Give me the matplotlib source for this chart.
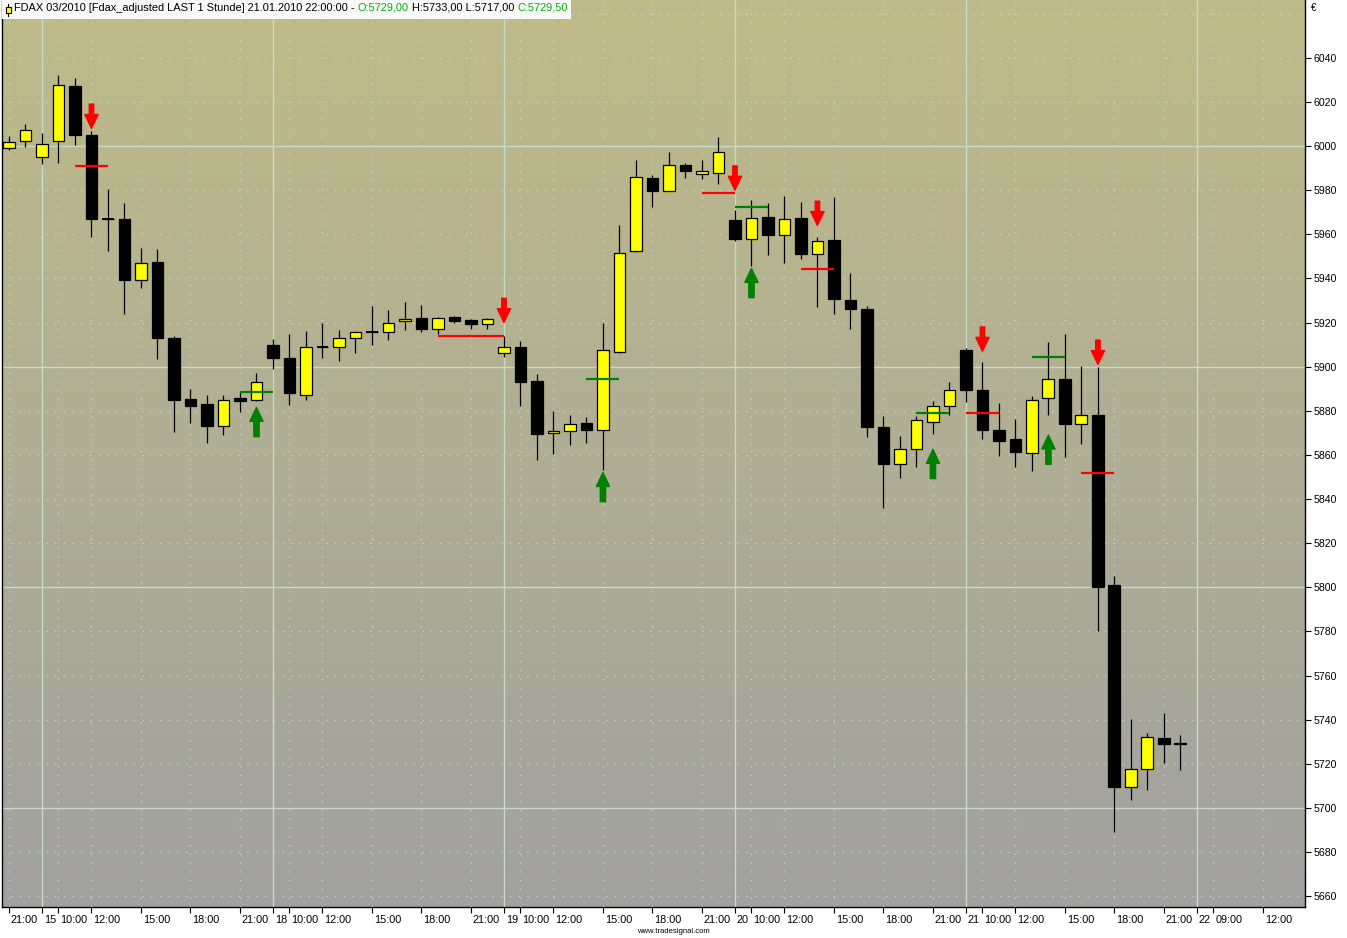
import numpy as np
import matplotlib.pyplot as plt
import matplotlib.transforms as mtransforms
from matplotlib.patches import Rectangle
from matplotlib.lines import Line2D
from matplotlib.text import Annotation

plt.rcParams['font.family'] = ['Liberation Sans', 'DejaVu Sans']

# FDAX 03/2010, hourly bars 14.01 21:00 ... 21.01 22:00
opens = [5999, 6002.5, 5995, 6002.5, 6027, 6005, 5967, 5967, 5939.5, 5947.5,
         5913, 5885.5, 5883, 5873, 5886, 5885, 5910, 5904, 5887, 5909,
         5909, 5913, 5915.5, 5915.5, 5920.5, 5922, 5917, 5922.5, 5921, 5919.5,
         5906, 5909, 5893.5, 5870, 5871, 5874.5, 5871.5, 5906.5, 5952.5, 5985.5,
         5979.5, 5991.5, 5987.5, 5988, 5966.5, 5958, 5968, 5959.5, 5967.5, 5951,
         5957.5, 5930, 5926, 5872.5, 5856, 5862.5, 5875, 5882, 5907.5, 5889.5,
         5871.5, 5867, 5861, 5886, 5894.5, 5874, 5878, 5801, 5709.5, 5717.5,
         5731.5, 5729]
highs = [6004.5, 6010, 6006, 6032, 6031, 6007, 5980.5, 5974, 5954, 5953.5,
         5914, 5890, 5887, 5887, 5889, 5897, 5912.5, 5915, 5916, 5920,
         5916.5, 5916, 5927.5, 5925.5, 5929.5, 5928, 5922.5, 5923, 5921.5, 5922,
         5914, 5911.5, 5896.5, 5880, 5878, 5877, 5920, 5964, 5993.5, 5987,
         5997.5, 5992.5, 5993.5, 6004, 5971, 5975.5, 5974, 5977.5, 5974.5, 5959,
         5977, 5942.5, 5927.5, 5877.5, 5868.5, 5877.5, 5884.5, 5893, 5908.5, 5902,
         5883.5, 5876.5, 5886.5, 5911, 5915, 5900.5, 5900, 5805, 5740.5, 5734,
         5743, 5733]
lows = [5998, 5999.5, 5992, 5992.5, 6000.5, 5959, 5952.5, 5924, 5935.5, 5903.5,
        5870.5, 5874.5, 5865.5, 5869, 5879.5, 5884.5, 5899, 5882.5, 5885, 5904,
        5902.5, 5906, 5910, 5912, 5916.5, 5915.5, 5915, 5920, 5917, 5917,
        5904.5, 5882, 5857.5, 5860.5, 5864.5, 5865.5, 5853, 5906, 5952, 5972.5,
        5979.5, 5985.5, 5985, 5983, 5957, 5945.5, 5950.5, 5947, 5949, 5927,
        5924, 5917, 5868, 5836, 5849.5, 5854.5, 5869.5, 5878, 5884, 5867,
        5859.5, 5854.5, 5852.5, 5878, 5859, 5865, 5780, 5689, 5703.5, 5708,
        5720.5, 5717]
closes = [6002, 6007.5, 6001, 6027.5, 6005, 5967, 5967, 5939.5, 5947, 5913,
          5885, 5882, 5873, 5885, 5884.5, 5893, 5904, 5888, 5909, 5909,
          5913, 5915.5, 5915.5, 5920, 5921.5, 5917, 5922, 5920.5, 5919.5, 5921.5,
          5909, 5893, 5869.5, 5871, 5874, 5871.5, 5907.5, 5951.5, 5986, 5979.5,
          5991.5, 5988.5, 5988.5, 5997.5, 5958, 5967.5, 5959.5, 5967, 5951, 5957,
          5930.5, 5926, 5872.5, 5856, 5862.5, 5876, 5882, 5889.5, 5889.5, 5871.5,
          5866.5, 5861.5, 5885, 5894.5, 5874, 5878, 5800, 5709.5, 5717.5, 5732,
          5729, 5729.5]

# short signals: arrow bar, arrow tip price, line start/end bar, line level
short_bars = [5, 30, 44, 49, 59, 66]
short_tips = [6008, 5920, 5980, 5964, 5907, 5901]
short_from = [4, 26, 42, 48, 58, 65]
short_to = [6, 30, 44, 50, 60, 67]
short_level = [5991, 5914, 5978.5, 5944.5, 5879, 5852]

# long signals
long_bars = [15, 36, 45, 56, 63]
long_tips = [5881.5, 5852, 5944.5, 5862.5, 5869]
long_from = [14, 35, 44, 55, 62]
long_to = [16, 37, 46, 57, 64]
long_level = [5888.5, 5894.5, 5972.5, 5879, 5904.5]

# time axis labels (bar index of each label)
tick_pos = [0, 2, 3, 5, 8, 11, 14, 16, 17, 19, 22, 25, 28, 30, 31, 33, 36, 39,
            42, 44, 45, 47, 50, 53, 56, 58, 59, 61, 64, 67, 70, 72, 73, 76]
tick_lbl = ['21:00', '15', '10:00', '12:00', '15:00', '18:00', '21:00',
            '18', '10:00', '12:00', '15:00', '18:00', '21:00',
            '19', '10:00', '12:00', '15:00', '18:00', '21:00',
            '20', '10:00', '12:00', '15:00', '18:00', '21:00',
            '21', '10:00', '12:00', '15:00', '18:00', '21:00',
            '22', '09:00', '12:00']

price_ticks = list(range(5660, 6041, 20))

W, H = 1347, 938
fig = plt.figure(figsize=(W / 100, H / 100), dpi=100)
ax = fig.add_axes([2 / W, 1 - 907 / H, 1303 / W, 907 / H])

# khaki -> grey background
top = np.array([191, 187, 137]) / 255
bot = np.array([161, 161, 160]) / 255
t = np.linspace(0, 1, 256)[:, None]
grad = (top * (1 - t) + bot * t)[:, None, :]
ax.imshow(grad, extent=(0, 1, 0, 1), transform=ax.transAxes, aspect='auto',
          zorder=0, interpolation='bilinear')

grid_col = '#c6dac6'
for lvl in range(5660, 6061, 20):
    if lvl % 100 == 0:
        ax.axhline(lvl, color=grid_col, lw=1.0, zorder=1)
    else:
        ax.axhline(lvl, color=grid_col, lw=0.9, ls=(0, (1, 6)), zorder=1)
for pos, lbl in zip(tick_pos, tick_lbl):
    if ':' in lbl:
        ax.axvline(pos, color=grid_col, lw=0.9, ls=(0, (1, 6)), zorder=1)
    else:
        ax.axvline(pos, color=grid_col, lw=1.0, zorder=1)

# candles
x = np.arange(len(opens))
o, h, l, c = (np.array(v, dtype=float) for v in (opens, highs, lows, closes))
up = c > o
ax.vlines(x, l, h, color='black', lw=0.9, zorder=2)
ax.bar(x, np.abs(c - o), bottom=np.minimum(o, c), width=0.72,
       color=['#ffff00' if u else '#000000' for u in up],
       edgecolor='black', linewidth=0.9, zorder=3)
doji = np.abs(c - o) < 0.01
ax.hlines(o[doji], x[doji] - 0.36, x[doji] + 0.36, color='black', lw=1.4, zorder=3)

# signal lines and arrows
ax.hlines(short_level, short_from, short_to, color='#ff0000', lw=1.6, zorder=4)
ax.hlines(long_level, long_from, long_to, color='#008000', lw=1.6, zorder=4)
for b, tip in zip(short_bars, short_tips):
    ax.annotate('', xy=(b, tip), xytext=(0, 17.5), textcoords='offset points',
                arrowprops=dict(arrowstyle='simple,head_length=1.0,head_width=0.95,tail_width=0.32',
                                color='#ff0000', shrinkA=0, shrinkB=0, mutation_scale=10),
                zorder=5)
for b, tip in zip(long_bars, long_tips):
    ax.annotate('', xy=(b, tip), xytext=(0, -21), textcoords='offset points',
                arrowprops=dict(arrowstyle='simple,head_length=1.0,head_width=0.95,tail_width=0.38',
                                color='#008000', shrinkA=0, shrinkB=0, mutation_scale=10),
                zorder=5)

ax.set_xlim(-0.424, 78.55)
ax.set_ylim(5655.1, 6066.2)

# axes styling
ax.spines['top'].set_visible(False)
for s in ('left', 'right', 'bottom'):
    ax.spines[s].set_linewidth(1.0)
    ax.spines[s].set_color('black')
ax.yaxis.tick_right()
ax.set_yticks(price_ticks)
ax.set_yticklabels([str(v) for v in price_ticks])
ax.tick_params(axis='y', length=4, width=0.8, pad=2, labelsize=7.6)
ax.set_xticks(tick_pos)
ax.set_xticklabels(tick_lbl, ha='left')
ax.tick_params(axis='x', length=4, width=0.8, pad=2, labelsize=7.8)
shift = mtransforms.ScaledTranslation(2 / 100, 0, fig.dpi_scale_trans)
for lab in ax.get_xticklabels():
    lab.set_transform(lab.get_transform() + shift)

# header line (instrument info with coloured O / C values)
hdr_fs = 7.9
t1 = fig.text(14 / W, 1 - 3 / H, 'FDAX 03/2010 [Fdax_adjusted LAST 1 Stunde] 21.01.2010 22:00:00 - ',
              va='top', ha='left', fontsize=hdr_fs, color='black', zorder=11)
parts = [('O:5729,00', '#00b400'), (' H:5733,00 L:5717,00 ', 'black'), ('C:5729,50', '#00b400')]
prev = t1
for txt, col in parts:
    prev = fig.add_artist(Annotation(txt, xy=(1, 0), xycoords=prev, va='bottom', ha='left',
                                     fontsize=hdr_fs, color=col, zorder=11))
fig.canvas.draw()
bb = prev.get_window_extent()
ident = mtransforms.IdentityTransform()
fig.add_artist(Rectangle((2, H - 19), bb.x1 + 3 - 2, 19, transform=ident,
                         facecolor='#f8f8f8', edgecolor='none', zorder=10))
# small candle icon
fig.add_artist(Line2D([8, 8], [H - 16, H - 4], transform=ident, color='black', lw=0.8, zorder=11))
fig.add_artist(Rectangle((5.5, H - 13), 5, 6, transform=ident,
                         facecolor='#ffff00', edgecolor='black', lw=0.8, zorder=12))

fig.text(1311 / W, 1 - 3 / H, '€', va='top', ha='left', fontsize=7)
fig.text(673 / W, 1 - 931 / H, 'www.tradesignal.com', va='center', ha='center', fontsize=5.5)

fig.savefig('out.png', dpi=100, facecolor='white')
